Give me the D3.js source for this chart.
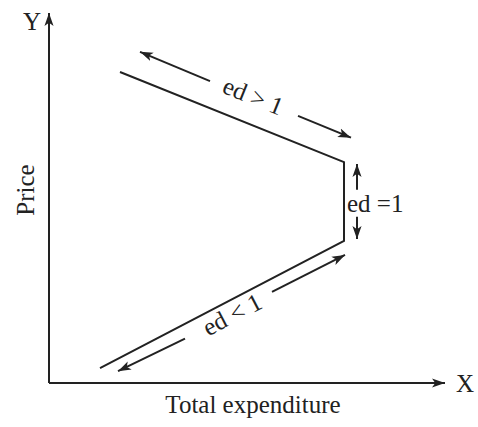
<html>
  <head>
    <meta name="viewport" content="width=device-width, initial-scale=1">
    <script src="https://d3js.org/d3.v7.min.js"></script>
    <style type="text/css">
      body { margin: 0; background: #fff; }
      svg text { font-family: "Liberation Serif", "Times New Roman", serif; fill: #222; }
    </style>
  </head>
  <body>
    <svg width="478" height="427"></svg>
    <script>
      // curve points (total expenditure, price), abstract units 0..100
      var curveX = [17.75, 73.75, 73.75, 12.75];
      var curveY = [84.05, 59.7, 38.4, 4.05];

      // direction arrows: [x1, y1, x2, y2]
      var arrows = [
        [40.25, 81.6, 22.75, 89.5],   // ed > 1, upper left
        [62.25, 72.2, 75.5, 66.3],    // ed > 1, lower right
        [77, 52.2, 77, 59.2],         // ed = 1 up
        [77, 44.9, 77, 38.9],         // ed = 1 down
        [34, 12, 17.25, 3.2],         // ed < 1 lower left
        [55.75, 24.6, 74, 34.6]       // ed < 1 upper right
      ];

      var labels = ["ed > 1", "ed =1", "ed < 1"];
      var labelX = [50.25, 74.5, 46.75];
      var labelY = [75.4, 46.3, 16.5];

      var svg = d3.select("svg");
      var x = d3.scaleLinear().domain([0, 100]).range([49, 449]);
      var y = d3.scaleLinear().domain([0, 100]).range([383, 13]);

      var defs = svg.append("defs");
      defs.append("marker")
        .attr("id", "head")
        .attr("viewBox", "0 0 10 10")
        .attr("refX", 10).attr("refY", 5)
        .attr("markerWidth", 13).attr("markerHeight", 13)
        .attr("markerUnits", "userSpaceOnUse")
        .attr("orient", "auto")
        .append("path")
        .attr("d", "M0,1.5 L10,5 L0,8.5 L2.5,5 Z")
        .attr("fill", "#222");

      // axes
      svg.append("line")
        .attr("x1", x(0)).attr("y1", y(0))
        .attr("x2", x(0)).attr("y2", y(100))
        .attr("stroke", "#222").attr("stroke-width", 2)
        .attr("marker-end", "url(#head)");
      svg.append("line")
        .attr("x1", x(0)).attr("y1", y(0))
        .attr("x2", x(99)).attr("y2", y(0))
        .attr("stroke", "#222").attr("stroke-width", 2)
        .attr("marker-end", "url(#head)");

      svg.append("text").attr("x", 23).attr("y", 30).attr("font-size", 25).text("Y");
      svg.append("text").attr("x", 456).attr("y", 392).attr("font-size", 25).text("X");
      svg.append("text").attr("x", 253).attr("y", 413).attr("font-size", 25)
        .attr("text-anchor", "middle").text("Total expenditure");
      svg.append("text").attr("transform", "translate(34,190) rotate(-90)")
        .attr("font-size", 25).attr("text-anchor", "middle").text("Price");

      // curve
      var pts = curveX.map(function(d, i) { return [x(d), y(curveY[i])]; });
      svg.append("path")
        .attr("d", d3.line()(pts))
        .attr("fill", "none")
        .attr("stroke", "#222")
        .attr("stroke-width", 2);

      // arrows
      svg.selectAll(".arr").data(arrows).enter().append("line")
        .attr("class", "arr")
        .attr("x1", function(d) { return x(d[0]); })
        .attr("y1", function(d) { return y(d[1]); })
        .attr("x2", function(d) { return x(d[2]); })
        .attr("y2", function(d) { return y(d[3]); })
        .attr("stroke", "#222").attr("stroke-width", 2)
        .attr("marker-end", "url(#head)");

      // labels, rotated along the segment
      var angles = [
        Math.atan2(pts[1][1] - pts[0][1], pts[1][0] - pts[0][0]) * 180 / Math.PI,
        0,
        Math.atan2(pts[2][1] - pts[3][1], pts[2][0] - pts[3][0]) * 180 / Math.PI
      ];
      labels.forEach(function(t, i) {
        svg.append("text")
          .attr("transform", "translate(" + x(labelX[i]) + "," + y(labelY[i]) + ") rotate(" + angles[i] + ")")
          .attr("font-size", 25)
          .attr("text-anchor", i === 1 ? "start" : "middle")
          .text(t);
      });
    </script>
  </body>
</html>
